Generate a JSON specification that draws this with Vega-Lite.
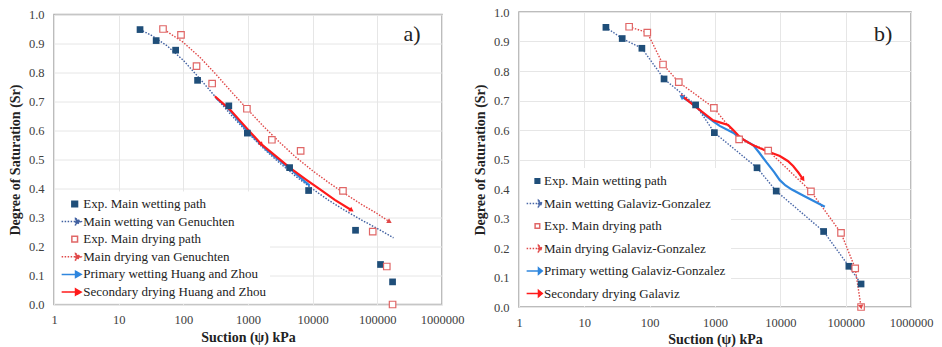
{
  "$schema": "https://vega.github.io/schema/vega-lite/v6.json",
  "background": "white",
  "padding": {"left": 7, "top": 5, "right": 5, "bottom": 5},
  "datasets": {
    "exp": [
      {"series": "Exp. Main wetting path", "s": 21.4, "sr": 0.948},
      {"series": "Exp. Main wetting path", "s": 38, "sr": 0.91},
      {"series": "Exp. Main wetting path", "s": 76, "sr": 0.877},
      {"series": "Exp. Main wetting path", "s": 166, "sr": 0.773},
      {"series": "Exp. Main wetting path", "s": 505, "sr": 0.685},
      {"series": "Exp. Main wetting path", "s": 978, "sr": 0.591},
      {"series": "Exp. Main wetting path", "s": 4400, "sr": 0.472},
      {"series": "Exp. Main wetting path", "s": 8650, "sr": 0.393},
      {"series": "Exp. Main wetting path", "s": 46000, "sr": 0.256},
      {"series": "Exp. Main wetting path", "s": 112000, "sr": 0.138},
      {"series": "Exp. Main wetting path", "s": 172000, "sr": 0.078},
      {"series": "Exp. Main drying path", "s": 48.5, "sr": 0.95},
      {"series": "Exp. Main drying path", "s": 92, "sr": 0.93},
      {"series": "Exp. Main drying path", "s": 160, "sr": 0.822},
      {"series": "Exp. Main drying path", "s": 279, "sr": 0.762},
      {"series": "Exp. Main drying path", "s": 962, "sr": 0.675},
      {"series": "Exp. Main drying path", "s": 2340, "sr": 0.568},
      {"series": "Exp. Main drying path", "s": 6520, "sr": 0.53},
      {"series": "Exp. Main drying path", "s": 29400, "sr": 0.392},
      {"series": "Exp. Main drying path", "s": 84900, "sr": 0.251},
      {"series": "Exp. Main drying path", "s": 140000, "sr": 0.131},
      {"series": "Exp. Main drying path", "s": 172000, "sr": 0.0}
    ],
    "curves": [
      {"series": "Main wetting van Genuchten", "s": 21.4, "sr": 0.948},
      {"series": "Main wetting van Genuchten", "s": 31.6, "sr": 0.929},
      {"series": "Main wetting van Genuchten", "s": 56.2, "sr": 0.892},
      {"series": "Main wetting van Genuchten", "s": 100, "sr": 0.842},
      {"series": "Main wetting van Genuchten", "s": 178, "sr": 0.78},
      {"series": "Main wetting van Genuchten", "s": 316, "sr": 0.715},
      {"series": "Main wetting van Genuchten", "s": 562, "sr": 0.651},
      {"series": "Main wetting van Genuchten", "s": 1000, "sr": 0.591},
      {"series": "Main wetting van Genuchten", "s": 1778, "sr": 0.536},
      {"series": "Main wetting van Genuchten", "s": 3162, "sr": 0.486},
      {"series": "Main wetting van Genuchten", "s": 5623, "sr": 0.44},
      {"series": "Main wetting van Genuchten", "s": 10000, "sr": 0.398},
      {"series": "Main wetting van Genuchten", "s": 17783, "sr": 0.359},
      {"series": "Main wetting van Genuchten", "s": 31623, "sr": 0.324},
      {"series": "Main wetting van Genuchten", "s": 56234, "sr": 0.292},
      {"series": "Main wetting van Genuchten", "s": 100000, "sr": 0.262},
      {"series": "Main wetting van Genuchten", "s": 177828, "sr": 0.23},
      {"series": "Main drying van Genuchten", "s": 45.7, "sr": 0.95},
      {"series": "Main drying van Genuchten", "s": 56.2, "sr": 0.941},
      {"series": "Main drying van Genuchten", "s": 100, "sr": 0.904},
      {"series": "Main drying van Genuchten", "s": 178, "sr": 0.854},
      {"series": "Main drying van Genuchten", "s": 316, "sr": 0.795},
      {"series": "Main drying van Genuchten", "s": 562, "sr": 0.732},
      {"series": "Main drying van Genuchten", "s": 1000, "sr": 0.671},
      {"series": "Main drying van Genuchten", "s": 1778, "sr": 0.612},
      {"series": "Main drying van Genuchten", "s": 3162, "sr": 0.557},
      {"series": "Main drying van Genuchten", "s": 5623, "sr": 0.506},
      {"series": "Main drying van Genuchten", "s": 10000, "sr": 0.461},
      {"series": "Main drying van Genuchten", "s": 17783, "sr": 0.42},
      {"series": "Main drying van Genuchten", "s": 31623, "sr": 0.382},
      {"series": "Main drying van Genuchten", "s": 56234, "sr": 0.346},
      {"series": "Main drying van Genuchten", "s": 100000, "sr": 0.313},
      {"series": "Main drying van Genuchten", "s": 155000, "sr": 0.285},
      {"series": "Primary wetting Huang and Zhou", "s": 320, "sr": 0.712},
      {"series": "Primary wetting Huang and Zhou", "s": 500, "sr": 0.675},
      {"series": "Primary wetting Huang and Zhou", "s": 1000, "sr": 0.596},
      {"series": "Primary wetting Huang and Zhou", "s": 2000, "sr": 0.53},
      {"series": "Primary wetting Huang and Zhou", "s": 4450, "sr": 0.468},
      {"series": "Primary wetting Huang and Zhou", "s": 9000, "sr": 0.41},
      {"series": "Secondary drying Huang and Zhou", "s": 307, "sr": 0.718},
      {"series": "Secondary drying Huang and Zhou", "s": 525, "sr": 0.672},
      {"series": "Secondary drying Huang and Zhou", "s": 1000, "sr": 0.603},
      {"series": "Secondary drying Huang and Zhou", "s": 1620, "sr": 0.552},
      {"series": "Secondary drying Huang and Zhou", "s": 3000, "sr": 0.503},
      {"series": "Secondary drying Huang and Zhou", "s": 4460, "sr": 0.471},
      {"series": "Secondary drying Huang and Zhou", "s": 8000, "sr": 0.43},
      {"series": "Secondary drying Huang and Zhou", "s": 13000, "sr": 0.397},
      {"series": "Secondary drying Huang and Zhou", "s": 22000, "sr": 0.361},
      {"series": "Secondary drying Huang and Zhou", "s": 40000, "sr": 0.325},
      {"series": "Primary wetting Galaviz-Gonzalez", "s": 307, "sr": 0.713},
      {"series": "Primary wetting Galaviz-Gonzalez", "s": 500, "sr": 0.683},
      {"series": "Primary wetting Galaviz-Gonzalez", "s": 700, "sr": 0.65},
      {"series": "Primary wetting Galaviz-Gonzalez", "s": 1000, "sr": 0.625},
      {"series": "Primary wetting Galaviz-Gonzalez", "s": 1180, "sr": 0.614},
      {"series": "Primary wetting Galaviz-Gonzalez", "s": 1890, "sr": 0.591},
      {"series": "Primary wetting Galaviz-Gonzalez", "s": 2400, "sr": 0.574},
      {"series": "Primary wetting Galaviz-Gonzalez", "s": 3840, "sr": 0.549},
      {"series": "Primary wetting Galaviz-Gonzalez", "s": 4800, "sr": 0.522},
      {"series": "Primary wetting Galaviz-Gonzalez", "s": 6150, "sr": 0.49},
      {"series": "Primary wetting Galaviz-Gonzalez", "s": 8000, "sr": 0.458},
      {"series": "Primary wetting Galaviz-Gonzalez", "s": 9820, "sr": 0.43},
      {"series": "Primary wetting Galaviz-Gonzalez", "s": 12000, "sr": 0.412},
      {"series": "Primary wetting Galaviz-Gonzalez", "s": 15000, "sr": 0.398},
      {"series": "Primary wetting Galaviz-Gonzalez", "s": 22300, "sr": 0.378},
      {"series": "Primary wetting Galaviz-Gonzalez", "s": 48000, "sr": 0.34},
      {"series": "Secondary drying Galaviz", "s": 300, "sr": 0.719},
      {"series": "Secondary drying Galaviz", "s": 490, "sr": 0.681},
      {"series": "Secondary drying Galaviz", "s": 935, "sr": 0.633},
      {"series": "Secondary drying Galaviz", "s": 1180, "sr": 0.626},
      {"series": "Secondary drying Galaviz", "s": 1585, "sr": 0.617},
      {"series": "Secondary drying Galaviz", "s": 1900, "sr": 0.6},
      {"series": "Secondary drying Galaviz", "s": 2260, "sr": 0.582},
      {"series": "Secondary drying Galaviz", "s": 2700, "sr": 0.568},
      {"series": "Secondary drying Galaviz", "s": 3840, "sr": 0.548},
      {"series": "Secondary drying Galaviz", "s": 6150, "sr": 0.529},
      {"series": "Secondary drying Galaviz", "s": 9820, "sr": 0.512},
      {"series": "Secondary drying Galaviz", "s": 13000, "sr": 0.495},
      {"series": "Secondary drying Galaviz", "s": 15700, "sr": 0.478},
      {"series": "Secondary drying Galaviz", "s": 19000, "sr": 0.455},
      {"series": "Secondary drying Galaviz", "s": 22300, "sr": 0.433}
    ]
  },
  "hconcat": [
    {
      "width": 388,
      "height": 290,
      "layer": [
        {
          "encoding": {
            "x": {"field": "s", "type": "quantitative", "title": "Suction (ψ) kPa",
              "scale": {"type": "log", "domain": [1, 1000000], "nice": false},
              "axis": {"values": [1, 10, 100, 1000, 10000, 100000, 1000000], "format": "d", "labelFlush": false, "labelOverlap": false, "labelPadding": 9, "titlePadding": 4}},
            "y": {"field": "sr", "type": "quantitative", "title": "Degree of Saturation (Sr)",
              "scale": {"domain": [0, 1], "nice": false, "zero": false},
              "axis": {"values": [0, 0.1, 0.2, 0.3, 0.4, 0.5, 0.6, 0.7, 0.8, 0.9, 1.0], "format": ".1f", "labelFlush": false, "labelOverlap": false, "labelPadding": 10, "titlePadding": 6}}
          },
          "layer": [
            {"data": {"name": "curves"}, "transform": [{"filter": "datum.series == 'Main wetting van Genuchten'"}],
              "mark": {"type": "line", "color": "#3F5FA0", "strokeWidth": 1.4, "strokeDash": [1.5, 1.5]}},
            {"data": {"name": "curves"}, "transform": [{"filter": "datum.series == 'Main drying van Genuchten'"}],
              "mark": {"type": "line", "color": "#E04848", "strokeWidth": 1.4, "strokeDash": [1.5, 1.5]}},
            {"data": {"name": "curves"}, "transform": [{"filter": "datum.series == 'Primary wetting Huang and Zhou'"}],
              "mark": {"type": "line", "color": "#2E86DE", "strokeWidth": 2.2}},
            {"data": {"name": "curves"}, "transform": [{"filter": "datum.series == 'Secondary drying Huang and Zhou'"}],
              "mark": {"type": "line", "color": "#FF1A1A", "strokeWidth": 2.2}},
            {"data": {"name": "exp"}, "transform": [{"filter": "datum.series == 'Exp. Main wetting path'"}],
              "mark": {"type": "point", "shape": "square", "filled": true, "color": "#1F4E79", "size": 45, "opacity": 1}},
            {"data": {"name": "exp"}, "transform": [{"filter": "datum.series == 'Exp. Main drying path'"}],
              "mark": {"type": "point", "shape": "square", "filled": true, "fill": "white", "stroke": "#E06666", "strokeWidth": 1.2, "size": 42, "opacity": 1}},
            {"data": {"name": "curves"}, "transform": [{"filter": "datum.series == 'Main drying van Genuchten' && datum.s == 155000"}],
              "mark": {"type": "point", "shape": "triangle-right", "filled": true, "color": "#E04848", "size": 30, "angle": 32, "opacity": 1}},
            {"data": {"name": "curves"}, "transform": [{"filter": "datum.series == 'Secondary drying Huang and Zhou' && datum.s == 40000"}],
              "mark": {"type": "point", "shape": "triangle-right", "filled": true, "color": "#FF1A1A", "size": 30, "angle": 35, "opacity": 1}},
            {"data": {"name": "curves"}, "transform": [{"filter": "datum.series == 'Secondary drying Huang and Zhou' && datum.s == 1620"}],
              "mark": {"type": "point", "shape": "triangle-right", "filled": true, "color": "#FF1A1A", "size": 25, "angle": 48, "opacity": 1}},
            {"data": {"name": "exp"}, "transform": [{"filter": "datum.s < 0"}],
              "mark": {"type": "point", "filled": true, "opacity": 1, "strokeWidth": 1.5},
              "encoding": {
                "fill": {"field": "series", "type": "nominal",
                  "scale": {"domain": ["Exp. Main wetting path", "Main wetting van Genuchten", "Exp. Main drying path", "Main drying van Genuchten", "Primary wetting Huang and Zhou", "Secondary drying Huang and Zhou"],
                    "range": ["#1F4E79", "#3F5FA0", "#ffffff", "#E04848", "#2E86DE", "#FF1A1A"]},
                  "legend": {"title": null, "orient": "bottom-left", "offset": 1, "padding": 4, "fillColor": "white", "symbolSize": 225, "symbolStrokeWidth": 1.5, "rowPadding": 1.6, "labelOffset": 7.3, "labelFontSize": 13, "labelFont": "Liberation Serif", "labelColor": "#222222", "labelLimit": 400}},
                "stroke": {"field": "series", "type": "nominal",
                  "scale": {"domain": ["Exp. Main wetting path", "Main wetting van Genuchten", "Exp. Main drying path", "Main drying van Genuchten", "Primary wetting Huang and Zhou", "Secondary drying Huang and Zhou"],
                    "range": ["#1F4E79", "#3F5FA0", "#E06666", "#E04848", "#2E86DE", "#FF1A1A"]},
                  "legend": {"title": null, "orient": "bottom-left", "offset": 1, "padding": 4, "fillColor": "white", "symbolSize": 225, "symbolStrokeWidth": 1.5, "rowPadding": 1.6, "labelOffset": 7.3, "labelFontSize": 13, "labelFont": "Liberation Serif", "labelColor": "#222222", "labelLimit": 400}},
                "shape": {"field": "series", "type": "nominal",
                  "scale": {"domain": ["Exp. Main wetting path", "Main wetting van Genuchten", "Exp. Main drying path", "Main drying van Genuchten", "Primary wetting Huang and Zhou", "Secondary drying Huang and Zhou"],
                    "range": ["M0.58,-0.38H1.34V0.38H0.58Z", "M-0.78,0L1.2,0M1.07,-0.42L1.82,0L1.07,0.42Z", "M0.58,-0.38H1.34V0.38H0.58Z", "M-0.78,0L1.2,0M1.07,-0.42L1.82,0L1.07,0.42Z", "M-0.78,0L1.2,0M1.07,-0.42L1.82,0L1.07,0.42Z", "M-0.78,0L1.2,0M1.07,-0.42L1.82,0L1.07,0.42Z"]},
                  "legend": {"title": null, "orient": "bottom-left", "offset": 1, "padding": 4, "fillColor": "white", "symbolSize": 225, "symbolStrokeWidth": 1.5, "rowPadding": 1.6, "labelOffset": 7.3, "labelFontSize": 13, "labelFont": "Liberation Serif", "labelColor": "#222222", "labelLimit": 400}},
                "strokeDash": {"field": "series", "type": "nominal",
                  "scale": {"domain": ["Exp. Main wetting path", "Main wetting van Genuchten", "Exp. Main drying path", "Main drying van Genuchten", "Primary wetting Huang and Zhou", "Secondary drying Huang and Zhou"],
                    "range": [[1, 0], [1.5, 1.5], [1, 0], [1.5, 1.5], [1, 0], [1, 0]]},
                  "legend": {"title": null, "orient": "bottom-left", "offset": 1, "padding": 4, "fillColor": "white", "symbolSize": 225, "symbolStrokeWidth": 1.5, "rowPadding": 1.6, "labelOffset": 7.3, "labelFontSize": 13, "labelFont": "Liberation Serif", "labelColor": "#222222", "labelLimit": 400}}
              }}
          ]
        },
        {"data": {"values": [{"label": "a)"}]},
          "mark": {"type": "text", "font": "Liberation Serif", "fontSize": 22, "color": "#222222", "align": "center", "baseline": "middle"},
          "encoding": {
            "x": {"datum": 344000, "type": "quantitative", "title": "Suction (ψ) kPa",
              "scale": {"type": "log", "domain": [1, 1000000], "nice": false},
              "axis": {"values": [1, 10, 100, 1000, 10000, 100000, 1000000], "format": "d", "labelFlush": false, "labelOverlap": false, "labelPadding": 9, "titlePadding": 4}},
            "y": {"datum": 0.934, "type": "quantitative", "title": "Degree of Saturation (Sr)",
              "scale": {"domain": [0, 1], "nice": false, "zero": false},
              "axis": {"values": [0, 0.1, 0.2, 0.3, 0.4, 0.5, 0.6, 0.7, 0.8, 0.9, 1.0], "format": ".1f", "labelFlush": false, "labelOverlap": false, "labelPadding": 10, "titlePadding": 6}},
            "text": {"field": "label", "type": "nominal"}
          }}
      ]
    },
    {
      "width": 392,
      "height": 295,
      "layer": [
        {
          "encoding": {
            "x": {"field": "s", "type": "quantitative", "title": "Suction (ψ) kPa",
              "scale": {"type": "log", "domain": [1, 1000000], "nice": false},
              "axis": {"values": [1, 10, 100, 1000, 10000, 100000, 1000000], "format": "d", "labelFlush": false, "labelOverlap": false, "labelPadding": 9, "titlePadding": 4}},
            "y": {"field": "sr", "type": "quantitative", "title": "Degree of Saturation (Sr)",
              "scale": {"domain": [0, 1], "nice": false, "zero": false},
              "axis": {"values": [0, 0.1, 0.2, 0.3, 0.4, 0.5, 0.6, 0.7, 0.8, 0.9, 1.0], "format": ".1f", "labelFlush": false, "labelOverlap": false, "labelPadding": 10, "titlePadding": 6}}
          },
          "layer": [
            {"data": {"name": "exp"}, "transform": [{"filter": "datum.series == 'Exp. Main wetting path'"}],
              "mark": {"type": "line", "color": "#4A68A8", "strokeWidth": 1.4, "strokeDash": [1.5, 1.5]}},
            {"data": {"name": "exp"}, "transform": [{"filter": "datum.series == 'Exp. Main drying path'"}],
              "mark": {"type": "line", "color": "#E04848", "strokeWidth": 1.4, "strokeDash": [1.5, 1.5]}},
            {"data": {"name": "curves"}, "transform": [{"filter": "datum.series == 'Primary wetting Galaviz-Gonzalez'"}],
              "mark": {"type": "line", "color": "#2E86DE", "strokeWidth": 2.2}},
            {"data": {"name": "curves"}, "transform": [{"filter": "datum.series == 'Secondary drying Galaviz'"}],
              "mark": {"type": "line", "color": "#FF1A1A", "strokeWidth": 2.2}},
            {"data": {"name": "exp"}, "transform": [{"filter": "datum.series == 'Exp. Main wetting path'"}],
              "mark": {"type": "point", "shape": "square", "filled": true, "color": "#1F4E79", "size": 45, "opacity": 1}},
            {"data": {"name": "exp"}, "transform": [{"filter": "datum.series == 'Exp. Main drying path'"}],
              "mark": {"type": "point", "shape": "square", "filled": true, "fill": "white", "stroke": "#E06666", "strokeWidth": 1.2, "size": 42, "opacity": 1}},
            {"data": {"name": "exp"}, "transform": [{"filter": "datum.series == 'Exp. Main drying path' && datum.s == 172000"}],
              "mark": {"type": "point", "shape": "triangle-right", "filled": true, "color": "#E04848", "size": 30, "angle": 80, "opacity": 1}},
            {"data": {"name": "curves"}, "transform": [{"filter": "datum.series == 'Secondary drying Galaviz' && datum.s == 22300"}],
              "mark": {"type": "point", "shape": "triangle-right", "filled": true, "color": "#FF1A1A", "size": 30, "angle": 55, "opacity": 1}},
            {"data": {"name": "curves"}, "transform": [{"filter": "datum.series == 'Primary wetting Galaviz-Gonzalez' && datum.s == 307"}],
              "mark": {"type": "point", "shape": "triangle-right", "filled": true, "color": "#2E86DE", "size": 30, "angle": 213, "opacity": 1}},
            {"data": {"name": "exp"}, "transform": [{"filter": "datum.s < 0"}],
              "mark": {"type": "point", "filled": true, "opacity": 1, "strokeWidth": 1.5},
              "encoding": {
                "fill": {"field": "series", "type": "nominal",
                  "scale": {"domain": ["Exp. Main wetting path", "Main wetting Galaviz-Gonzalez", "Exp. Main drying path", "Main drying Galaviz-Gonzalez", "Primary wetting Galaviz-Gonzalez", "Secondary drying Galaviz"],
                    "range": ["#1F4E79", "#4A68A8", "#ffffff", "#E04848", "#2E86DE", "#FF1A1A"]},
                  "legend": {"title": null, "orient": "bottom-left", "offset": 1, "padding": 5, "fillColor": "white", "symbolSize": 196, "symbolStrokeWidth": 1.5, "rowPadding": 7.5, "labelOffset": 3, "labelFontSize": 13, "labelFont": "Liberation Serif", "labelColor": "#222222", "labelLimit": 400}},
                "stroke": {"field": "series", "type": "nominal",
                  "scale": {"domain": ["Exp. Main wetting path", "Main wetting Galaviz-Gonzalez", "Exp. Main drying path", "Main drying Galaviz-Gonzalez", "Primary wetting Galaviz-Gonzalez", "Secondary drying Galaviz"],
                    "range": ["#1F4E79", "#4A68A8", "#E06666", "#E04848", "#2E86DE", "#FF1A1A"]},
                  "legend": {"title": null, "orient": "bottom-left", "offset": 1, "padding": 5, "fillColor": "white", "symbolSize": 196, "symbolStrokeWidth": 1.5, "rowPadding": 7.5, "labelOffset": 3, "labelFontSize": 13, "labelFont": "Liberation Serif", "labelColor": "#222222", "labelLimit": 400}},
                "shape": {"field": "series", "type": "nominal",
                  "scale": {"domain": ["Exp. Main wetting path", "Main wetting Galaviz-Gonzalez", "Exp. Main drying path", "Main drying Galaviz-Gonzalez", "Primary wetting Galaviz-Gonzalez", "Secondary drying Galaviz"],
                    "range": ["M0.3,-0.33H0.96V0.33H0.3Z", "M-0.91,0L0.9,0M0.78,-0.45L1.33,0L0.78,0.45Z", "M0.3,-0.33H0.96V0.33H0.3Z", "M-0.91,0L0.9,0M0.78,-0.45L1.33,0L0.78,0.45Z", "M-0.91,0L0.9,0M0.78,-0.45L1.33,0L0.78,0.45Z", "M-0.91,0L0.9,0M0.78,-0.45L1.33,0L0.78,0.45Z"]},
                  "legend": {"title": null, "orient": "bottom-left", "offset": 1, "padding": 5, "fillColor": "white", "symbolSize": 196, "symbolStrokeWidth": 1.5, "rowPadding": 7.5, "labelOffset": 3, "labelFontSize": 13, "labelFont": "Liberation Serif", "labelColor": "#222222", "labelLimit": 400}},
                "strokeDash": {"field": "series", "type": "nominal",
                  "scale": {"domain": ["Exp. Main wetting path", "Main wetting Galaviz-Gonzalez", "Exp. Main drying path", "Main drying Galaviz-Gonzalez", "Primary wetting Galaviz-Gonzalez", "Secondary drying Galaviz"],
                    "range": [[1, 0], [1.5, 1.5], [1, 0], [1.5, 1.5], [1, 0], [1, 0]]},
                  "legend": {"title": null, "orient": "bottom-left", "offset": 1, "padding": 5, "fillColor": "white", "symbolSize": 196, "symbolStrokeWidth": 1.5, "rowPadding": 7.5, "labelOffset": 3, "labelFontSize": 13, "labelFont": "Liberation Serif", "labelColor": "#222222", "labelLimit": 400}}
              }}
          ]
        },
        {"data": {"values": [{"label": "b)"}]},
          "mark": {"type": "text", "font": "Liberation Serif", "fontSize": 22, "color": "#222222", "align": "center", "baseline": "middle"},
          "encoding": {
            "x": {"datum": 375000, "type": "quantitative", "title": "Suction (ψ) kPa",
              "scale": {"type": "log", "domain": [1, 1000000], "nice": false},
              "axis": {"values": [1, 10, 100, 1000, 10000, 100000, 1000000], "format": "d", "labelFlush": false, "labelOverlap": false, "labelPadding": 9, "titlePadding": 4}},
            "y": {"datum": 0.924, "type": "quantitative", "title": "Degree of Saturation (Sr)",
              "scale": {"domain": [0, 1], "nice": false, "zero": false},
              "axis": {"values": [0, 0.1, 0.2, 0.3, 0.4, 0.5, 0.6, 0.7, 0.8, 0.9, 1.0], "format": ".1f", "labelFlush": false, "labelOverlap": false, "labelPadding": 10, "titlePadding": 6}},
            "text": {"field": "label", "type": "nominal"}
          }}
      ]
    }
  ],
  "spacing": 77,
  "bounds": "flush",
  "center": true,
  "resolve": {
    "scale": {"fill": "independent", "stroke": "independent", "shape": "independent", "strokeDash": "independent"},
    "legend": {"fill": "independent", "stroke": "independent", "shape": "independent", "strokeDash": "independent"}
  },
  "config": {
    "font": "Liberation Serif",
    "view": {"stroke": "#a6a6a6", "strokeWidth": 1.5},
    "axis": {
      "grid": true, "gridColor": "#e6e6e6", "gridWidth": 1, "domain": false, "ticks": false,
      "labelFont": "Liberation Serif", "labelFontSize": 12.5, "labelColor": "#404040",
      "titleFont": "Liberation Serif", "titleFontSize": 14, "titleFontWeight": "bold", "titleColor": "#222222"
    }
  }
}
